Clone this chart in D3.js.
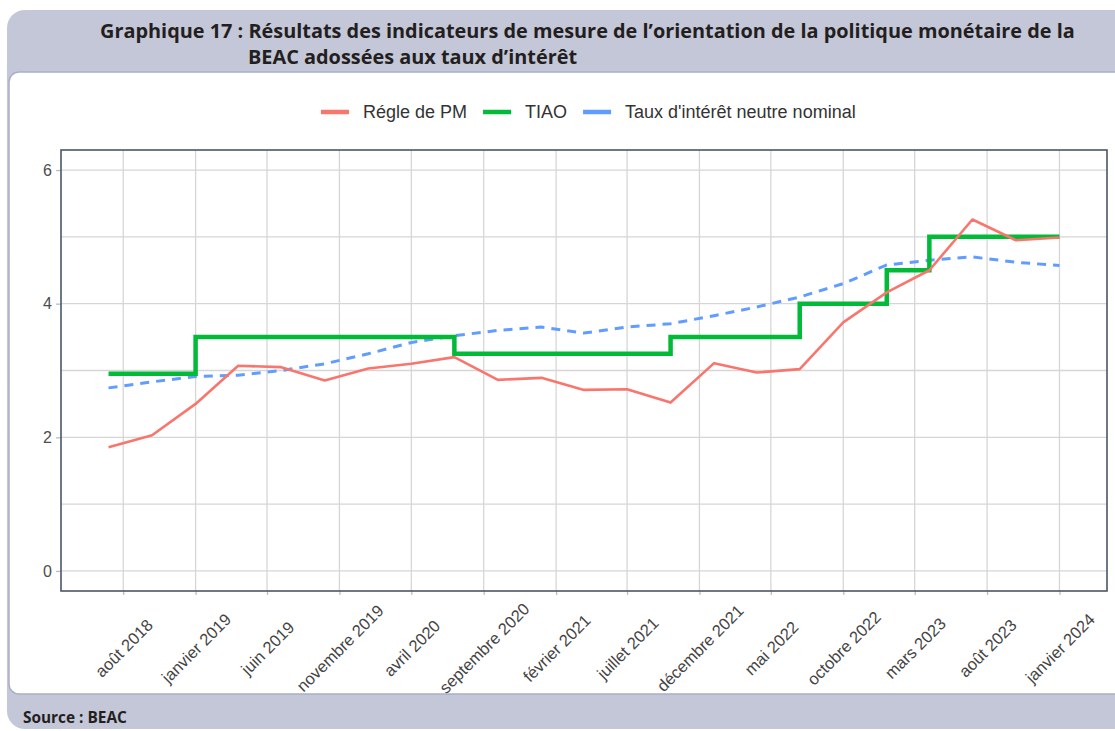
<!DOCTYPE html>
<html lang="fr">
<head>
<meta charset="utf-8">
<script src="https://cdn.jsdelivr.net/npm/d3@7"></script>
<style>
  html, body { margin: 0; padding: 0; background: #fff; }
  svg { display: block; }
</style>
</head>
<body>
<div id="chart"></div>
<script>
// données trimestrielles
const quarters = ["2018-07", "2018-10", "2019-01", "2019-04", "2019-07", "2019-10", "2020-01", "2020-04",
  "2020-07", "2020-10", "2021-01", "2021-04", "2021-07", "2021-10", "2022-01", "2022-04", "2022-07",
  "2022-10", "2023-01", "2023-04", "2023-07", "2023-10", "2024-01"];
const reglePM = [1.85, 2.03, 2.5, 3.07, 3.05, 2.85, 3.03, 3.1, 3.2, 2.86, 2.89, 2.71, 2.72, 2.52, 3.11,
  2.97, 3.02, 3.72, 4.17, 4.5, 5.26, 4.95, 4.99];
const tiao = [2.95, 2.95, 3.5, 3.5, 3.5, 3.5, 3.5, 3.5, 3.25, 3.25, 3.25, 3.25, 3.25, 3.5, 3.5, 3.5, 4.0,
  4.0, 4.5, 5.0, 5.0, 5.0, 5.0];
const neutre = [2.74, 2.83, 2.91, 2.93, 3.0, 3.1, 3.25, 3.42, 3.52, 3.6, 3.65, 3.56, 3.65, 3.7, 3.82,
  3.95, 4.1, 4.3, 4.58, 4.65, 4.7, 4.62, 4.57];

const tickMonths = ["2018-08", "2019-01", "2019-06", "2019-11", "2020-04", "2020-09", "2021-02",
  "2021-07", "2021-12", "2022-05", "2022-10", "2023-03", "2023-08", "2024-01"];
const tickLabels = ["août 2018", "janvier 2019", "juin 2019", "novembre 2019", "avril 2020",
  "septembre 2020", "février 2021", "juillet 2021", "décembre 2021", "mai 2022", "octobre 2022",
  "mars 2023", "août 2023", "janvier 2024"];
const yTicks = [0, 2, 4, 6];
const yGrid = [0, 1, 2, 3, 4, 5, 6];

const seriesNames = ["Régle de PM", "TIAO", "Taux d'intérêt neutre nominal"];
const seriesColors = ["#F8766D", "#00BA38", "#619CFF"];

const W = 1115, H = 731;
const plot = { left: 61, right: 1107, top: 150, bottom: 591 };
const parse = d3.utcParse("%Y-%m");

const svg = d3.select("#chart").append("svg")
  .attr("width", W).attr("height", H);

// cadre gris + panneau blanc
svg.append("rect")
  .attr("x", 7).attr("y", 10).attr("width", W + 20).attr("height", 719)
  .attr("rx", 18).attr("fill", "#c4c7d8");
svg.append("rect")
  .attr("x", 9).attr("y", 72).attr("width", W + 20).attr("height", 622)
  .attr("rx", 10).attr("fill", "#fff")
  .attr("stroke", "#a9afc8").attr("stroke-width", 1.5);

// ajuste la taille de police pour tenir la largeur voulue
function fitText(sel, width) {
  const size = +sel.attr("font-size") || 18;
  const len = sel.node().getComputedTextLength();
  sel.attr("font-size", size * width / len);
}

// titre
const titleFont = "'Open Sans', Lato, sans-serif";
const t1 = svg.append("text").attr("x", 100).attr("y", 38)
  .attr("font-family", titleFont).attr("font-weight", "bold")
  .attr("font-size", 18).attr("fill", "#231f20")
  .text("Graphique 17 : Résultats des indicateurs de mesure de l’orientation de la politique monétaire de la");
fitText(t1, 975);
svg.append("text").attr("x", 248).attr("y", 64)
  .attr("font-family", titleFont).attr("font-weight", "bold")
  .attr("font-size", t1.attr("font-size")).attr("fill", "#231f20")
  .text("BEAC adossées aux taux d’intérêt");

const src = svg.append("text")
  .attr("x", 23).attr("y", 723)
  .attr("font-family", titleFont)
  .attr("font-weight", "bold").attr("font-size", 15).attr("fill", "#231f20")
  .text("Source : BEAC");
fitText(src, 104);

// échelles
const d0 = parse(quarters[0]).getTime();
const d1 = parse(quarters[quarters.length - 1]).getTime();
const pad = (d1 - d0) * 0.05;
const x = d3.scaleUtc()
  .domain([new Date(d0 - pad), new Date(d1 + pad)])
  .range([plot.left, plot.right]);
const y = d3.scaleLinear()
  .domain([-0.3, 6.3])
  .range([plot.bottom, plot.top]);

const g = svg.append("g");

// grille
g.append("g").selectAll("line")
  .data(yGrid)
  .join("line")
  .attr("x1", plot.left).attr("x2", plot.right)
  .attr("y1", d => y(d)).attr("y2", d => y(d))
  .attr("stroke", "#d6d6d6").attr("stroke-width", 1.3);
g.append("g").selectAll("line")
  .data(tickMonths)
  .join("line")
  .attr("x1", d => x(parse(d))).attr("x2", d => x(parse(d)))
  .attr("y1", plot.top).attr("y2", plot.bottom)
  .attr("stroke", "#d6d6d6").attr("stroke-width", 1.3);

// axe y
const yAxis = g.append("g")
  .attr("transform", `translate(${plot.left},0)`)
  .call(d3.axisLeft(y).tickValues(yTicks).tickSize(5).tickPadding(4).tickFormat(d3.format("d")));
yAxis.select(".domain").remove();
yAxis.selectAll(".tick line").attr("stroke", "#bdbdbd").attr("stroke-width", 1.3);
yAxis.selectAll(".tick text")
  .attr("font-family", "'Liberation Sans', Arial, sans-serif")
  .attr("font-size", 16).attr("fill", "#4d4d4d");

// axe x
const xAxis = g.append("g")
  .attr("transform", `translate(0,${plot.bottom})`)
  .call(d3.axisBottom(x).tickValues(tickMonths.map(parse)).tickSize(4)
    .tickFormat((d, i) => tickLabels[i]));
xAxis.select(".domain").remove();
xAxis.selectAll(".tick line").attr("stroke", "#bdbdbd").attr("stroke-width", 1.3);
xAxis.selectAll(".tick text")
  .attr("font-family", "'Liberation Sans', Arial, sans-serif")
  .attr("font-size", 16.5).attr("fill", "#444")
  .attr("text-anchor", "middle")
  .attr("dominant-baseline", "central")
  .attr("dy", null)
  .attr("y", null)
  .attr("transform", "translate(0,57) rotate(-45)");

// séries
const pts = vals => vals.map((v, i) => [parse(quarters[i]), v]);

g.append("path")
  .datum(pts(neutre))
  .attr("fill", "none")
  .attr("stroke", seriesColors[2]).attr("stroke-width", 3)
  .attr("stroke-dasharray", "9,7")
  .attr("d", d3.line().x(d => x(d[0])).y(d => y(d[1])));

g.append("path")
  .datum(pts(tiao))
  .attr("fill", "none")
  .attr("stroke", seriesColors[1]).attr("stroke-width", 4.5)
  .attr("d", d3.line().x(d => x(d[0])).y(d => y(d[1])).curve(d3.curveStepAfter));

g.append("path")
  .datum(pts(reglePM))
  .attr("fill", "none")
  .attr("stroke", seriesColors[0]).attr("stroke-width", 2.6)
  .attr("stroke-linejoin", "round")
  .attr("d", d3.line().x(d => x(d[0])).y(d => y(d[1])));

// bordure du panneau
g.append("rect")
  .attr("x", plot.left).attr("y", plot.top)
  .attr("width", plot.right - plot.left).attr("height", plot.bottom - plot.top)
  .attr("fill", "none").attr("stroke", "#4b5668").attr("stroke-width", 1.6);

// légende
const legend = svg.append("g").attr("transform", "translate(0,112)");
let lx = 321;
seriesNames.forEach((name, i) => {
  legend.append("line")
    .attr("x1", lx).attr("x2", lx + 28)
    .attr("stroke", seriesColors[i]).attr("stroke-width", 4.5);
  const txt = legend.append("text")
    .attr("x", lx + 42).attr("dy", "0.35em")
    .attr("font-family", "'Liberation Sans', Arial, sans-serif")
    .attr("font-size", 18).attr("fill", "#333")
    .text(name);
  lx += 42 + txt.node().getComputedTextLength() + 16;
});
</script>
</body>
</html>
